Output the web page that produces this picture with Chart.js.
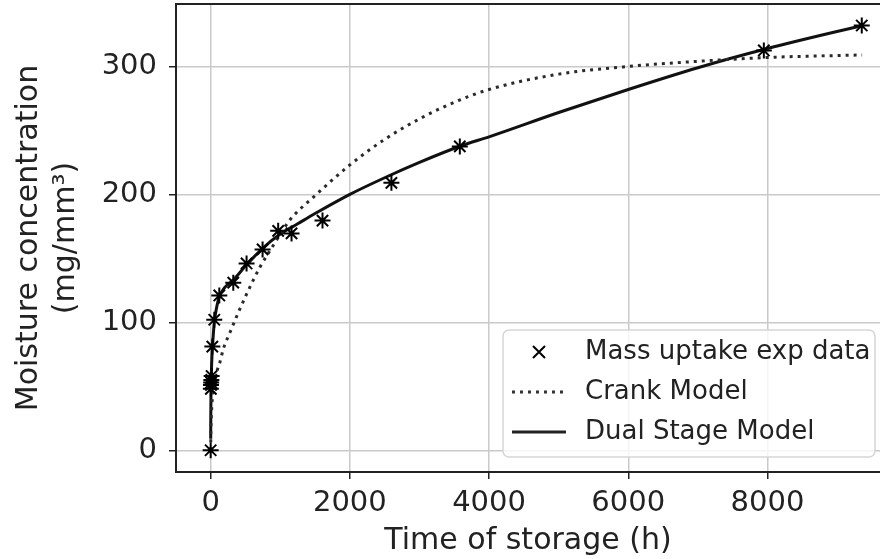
<!DOCTYPE html>
<html>
<head>
<meta charset="utf-8">
<script src="https://cdn.jsdelivr.net/npm/chart.js@4"></script>
<style>
  html, body { margin: 0; padding: 0; background: #fff; overflow: hidden; }
  #wrap { width: 880px; height: 559px; }
</style>
</head>
<body>
<div id="wrap"><canvas id="moistureChart"></canvas></div>
<script>
// Experimental mass uptake
const expTime = [0, 3, 5, 7, 10, 14, 24, 52, 124, 325, 516, 746, 970, 1162, 1607, 2597, 3580, 7948, 9355];
const expConc = [0, 48, 51, 53, 55, 58, 81, 102, 121, 131, 146, 157, 171.5, 169.5, 179.5, 209, 237.5, 312.5, 332];

// Crank model curve
const crankTime = [0, 3, 8, 15, 30, 50, 86, 134, 181, 277, 400, 516, 707, 898, 1000, 1138, 1500, 2000, 2500, 3000, 3500, 4000, 5000, 6000, 7000, 8000, 9360];
const crankConc = [0, 14, 24, 33, 44, 52, 61, 69, 79, 92, 108, 122, 143, 160, 169, 180, 199, 223, 243, 259, 272, 282, 294, 300, 304, 307, 309];

// Dual stage model curve
const dualTime = [0.5, 2, 5, 10, 20, 35, 52, 80, 124, 200, 325, 500, 750, 1000, 1250, 1500, 2000, 2500, 3000, 3600, 4000, 5000, 6000, 7000, 8000, 9360];
const dualConc = [9, 28, 45, 60, 75, 88, 100, 110, 120, 127, 133, 144, 158, 169, 177, 185, 200, 213, 225, 238, 245, 264, 282, 299, 314, 332];

const xTicks = [0, 2000, 4000, 6000, 8000];
const yTicks = [0, 100, 200, 300];

const toPoints = (xs, ys) => xs.map((x, i) => ({ x: x, y: ys[i] }));

const FONT = 'DejaVu Sans';

// matplotlib style legend box in the lower right corner
const legendBox = {
    id: 'legendBox',
    afterDraw(chart) {
        const ctx = chart.ctx;
        const x0 = 503, y0 = 330, w = 372, h = 127;
        ctx.save();
        ctx.beginPath();
        ctx.roundRect(x0, y0, w, h, 6);
        ctx.fillStyle = 'rgba(255,255,255,0.8)';
        ctx.fill();
        ctx.strokeStyle = '#d6d6d6';
        ctx.lineWidth = 1.5;
        ctx.stroke();

        const rows = [352, 392, 432];
        // x marker
        ctx.strokeStyle = '#000';
        ctx.lineWidth = 2;
        ctx.beginPath();
        ctx.moveTo(533, rows[0] - 6); ctx.lineTo(545, rows[0] + 6);
        ctx.moveTo(545, rows[0] - 6); ctx.lineTo(533, rows[0] + 6);
        ctx.stroke();
        // dotted line
        ctx.strokeStyle = '#333';
        ctx.lineWidth = 3;
        ctx.setLineDash([3, 5]);
        ctx.beginPath();
        ctx.moveTo(512, rows[1]); ctx.lineTo(566, rows[1]);
        ctx.stroke();
        // solid line
        ctx.setLineDash([]);
        ctx.strokeStyle = '#222';
        ctx.beginPath();
        ctx.moveTo(512, rows[2]); ctx.lineTo(566, rows[2]);
        ctx.stroke();

        ctx.fillStyle = '#222';
        ctx.font = '26px "' + FONT + '"';
        ctx.textBaseline = 'middle';
        ctx.fillText('Mass uptake exp data', 585, rows[0]);
        ctx.fillText('Crank Model', 585, rows[1]);
        ctx.fillText('Dual Stage Model', 585, rows[2]);
        ctx.restore();
    }
};

// top spine (right one is cut off in the reference)
const topSpine = {
    id: 'topSpine',
    afterDraw(chart) {
        const a = chart.chartArea;
        const ctx = chart.ctx;
        ctx.save();
        ctx.strokeStyle = '#222';
        ctx.lineWidth = 2;
        ctx.beginPath();
        ctx.moveTo(a.left - 1, a.top);
        ctx.lineTo(a.right, a.top);
        ctx.stroke();
        ctx.restore();
    }
};

const ctx = document.getElementById('moistureChart').getContext('2d');
new Chart(ctx, {
    type: 'line',
    data: {
        datasets: [{
            label: 'Mass uptake exp data',
            data: toPoints(expTime, expConc),
            showLine: false,
            pointStyle: 'star',
            pointRadius: 8,
            pointBorderWidth: 2,
            borderColor: '#000',
            backgroundColor: '#000'
        }, {
            label: 'Crank Model',
            data: toPoints(crankTime, crankConc),
            borderColor: '#2a2a2a',
            borderWidth: 3,
            borderDash: [3, 5],
            pointRadius: 0,
            cubicInterpolationMode: 'monotone',
            fill: false
        }, {
            label: 'Dual Stage Model',
            data: toPoints(dualTime, dualConc),
            borderColor: '#111',
            borderWidth: 3,
            pointRadius: 0,
            cubicInterpolationMode: 'monotone',
            fill: false
        }]
    },
    options: {
        responsive: true,
        maintainAspectRatio: false,
        animation: false,
        layout: { autoPadding: false, padding: { top: 4, left: 10, right: 0, bottom: 0 } },
        plugins: {
            legend: { display: false },
            tooltip: { enabled: false }
        },
        scales: {
            x: {
                type: 'linear',
                min: -498,
                max: 9617,
                afterBuildTicks: s => { s.ticks = xTicks.map(v => ({ value: v })); },
                afterFit: s => { s.height = 87; s.paddingLeft = 0; s.paddingRight = 0; },
                grid: { color: '#cacaca', lineWidth: 1.5, tickLength: 7, tickColor: '#222', tickWidth: 1.5 },
                border: { display: true, color: '#222', width: 2 },
                ticks: { color: '#222', font: { family: FONT, size: 29 }, padding: 7, maxRotation: 0, callback: v => String(v) },
                title: { display: true, text: 'Time of storage (h)', color: '#222', font: { family: FONT, size: 30 }, padding: { top: 0, bottom: 0 } }
            },
            y: {
                type: 'linear',
                min: -17,
                max: 348.8,
                afterBuildTicks: s => { s.ticks = yTicks.map(v => ({ value: v })); },
                afterFit: s => { s.width = 166; s.paddingTop = 0; s.paddingBottom = 0; },
                grid: { color: '#cacaca', lineWidth: 1.5, tickLength: 7, tickColor: '#222', tickWidth: 1.5 },
                border: { display: true, color: '#222', width: 2 },
                ticks: { color: '#222', font: { family: FONT, size: 29 }, padding: 12, callback: v => String(v) },
                title: { display: true, text: ['Moisture concentration', '(mg/mm\u00b3)'], color: '#222', font: { family: FONT, size: 30, lineHeight: 1.25 }, padding: { top: 0, bottom: 0 } }
            }
        }
    },
    plugins: [legendBox, topSpine]
});
</script>
</body>
</html>
